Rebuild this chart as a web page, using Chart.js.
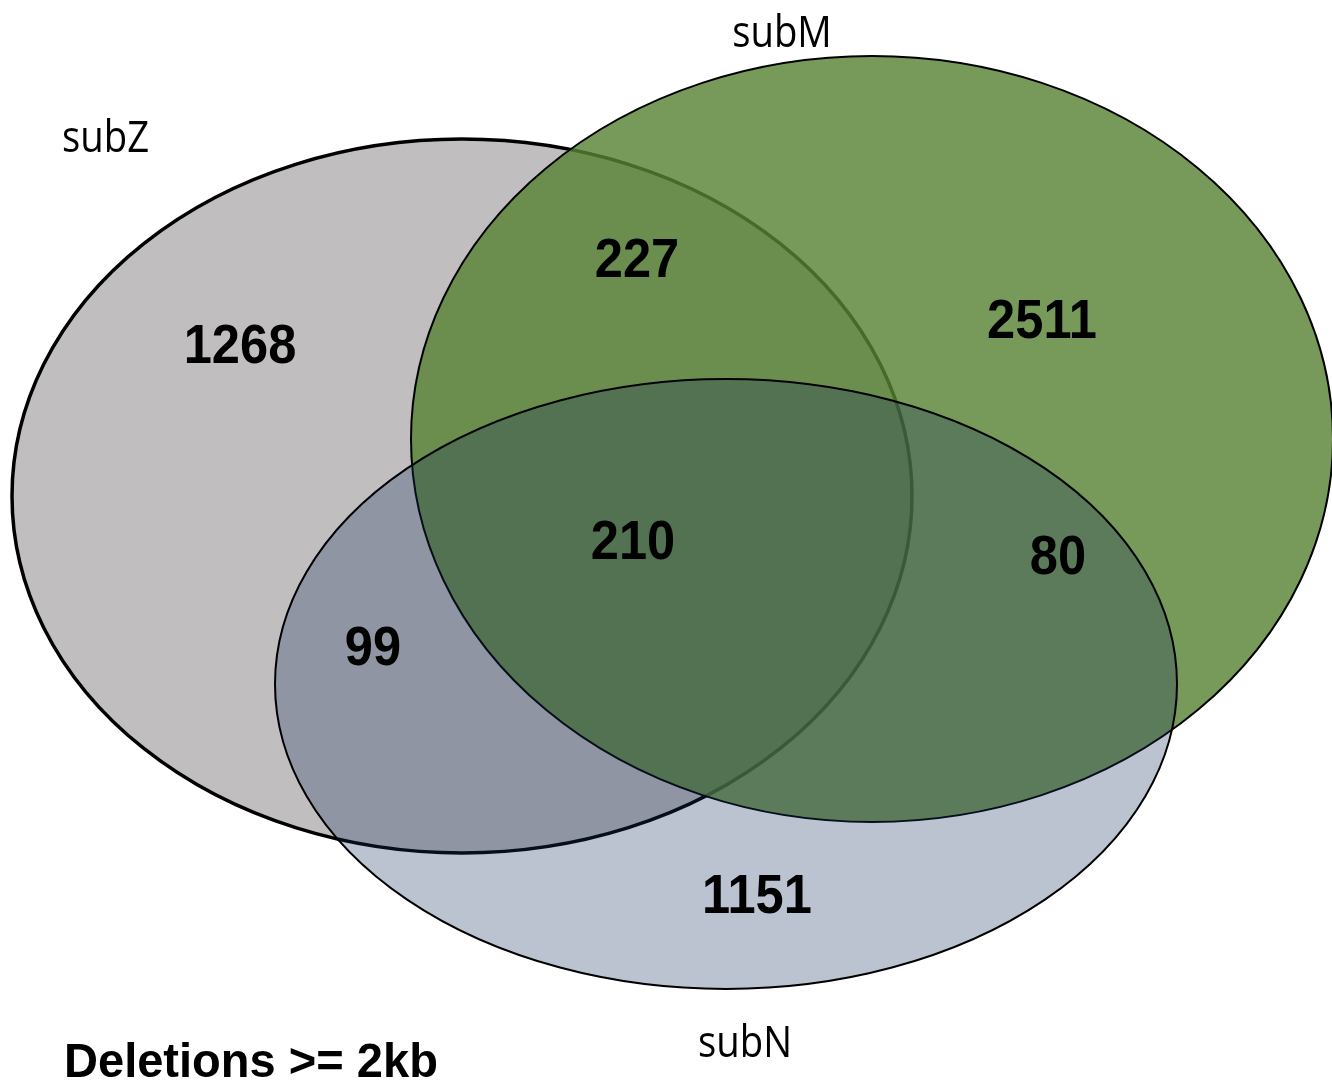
<!DOCTYPE html>
<html lang="en">
<head>
  <meta charset="UTF-8">
  <title>Deletions >= 2kb</title>
  <script src="https://cdn.jsdelivr.net/npm/chart.js"></script>
  <style>
    body { margin: 0; background: #fff; }
    canvas { display: block; }
  </style>
</head>
<body>
  <canvas id="vennChart" width="1332" height="1081"></canvas>
  <script>
    // data
    const setNames = ['subZ', 'subM', 'subN'];
    const regionSets = ['subZ', 'subZ+subM', 'subM', 'subZ+subM+subN', 'subM+subN', 'subZ+subN', 'subN'];
    const regionCounts = [1268, 227, 2511, 210, 80, 99, 1151];
    const chartTitle = 'Deletions >= 2kb';

    // layout, in axis units (x 0..1332, y 0..1081 from top)
    const ellipseCenters = [{x: 462, y: 496}, {x: 872, y: 439}, {x: 726, y: 684}];
    const ellipseRadii = [{rx: 450, ry: 357}, {rx: 461, ry: 383}, {rx: 451, ry: 305}];
    const ellipseFill = ['rgb(192,190,191)', 'rgba(87,130,52,0.81)', 'rgba(24,48,93,0.29)'];
    const ellipseLine = [3.5, 2, 2];
    const setNamePos = [{x: 62, y: 152, align: 'left'}, {x: 782, y: 47, align: 'center'}, {x: 745, y: 1057, align: 'center'}];
    const countPos = [{x: 240, y: 343}, {x: 637, y: 257}, {x: 1042, y: 318}, {x: 633, y: 539},
                      {x: 1058, y: 554}, {x: 373, y: 645}, {x: 757, y: 893}];
    const titlePos = {x: 64, y: 1077};

    function stretchedText(ctx, text, x, y, font, sx, align) {
      ctx.save();
      ctx.font = font;
      ctx.fillStyle = '#000';
      ctx.textAlign = align;
      ctx.textBaseline = 'alphabetic';
      ctx.translate(x, y);
      ctx.scale(sx, 1);
      ctx.fillText(text, 0, 0);
      ctx.restore();
    }

    const vennPlugin = {
      id: 'venn',
      beforeDatasetsDraw(chart) {
        const ctx = chart.ctx;
        const xs = chart.scales.x, ys = chart.scales.y;
        const meta = chart.getDatasetMeta(0);
        meta.data.forEach((pt, i) => {
          const c = ellipseCenters[i], r = ellipseRadii[i];
          const rx = Math.abs(xs.getPixelForValue(c.x + r.rx) - pt.x);
          const ry = Math.abs(ys.getPixelForValue(c.y + r.ry) - pt.y);
          ctx.save();
          ctx.beginPath();
          ctx.ellipse(pt.x, pt.y, rx, ry, 0, 0, Math.PI * 2);
          ctx.fillStyle = ellipseFill[i];
          ctx.fill();
          ctx.lineWidth = ellipseLine[i];
          ctx.strokeStyle = '#000';
          ctx.stroke();
          ctx.restore();
        });
      },
      afterDatasetsDraw(chart) {
        const ctx = chart.ctx;
        const xs = chart.scales.x, ys = chart.scales.y;
        chart.getDatasetMeta(1).data.forEach((pt, i) => {
          stretchedText(ctx, String(regionCounts[i]), pt.x, pt.y + 20,
            'bold 55px "Liberation Sans", Arial, sans-serif', 0.92, 'center');
        });
        setNames.forEach((name, i) => {
          const p = setNamePos[i];
          stretchedText(ctx, name, xs.getPixelForValue(p.x), ys.getPixelForValue(p.y),
            '44px "Open Sans", sans-serif', 0.87, p.align);
        });
        stretchedText(ctx, chartTitle, xs.getPixelForValue(titlePos.x), ys.getPixelForValue(titlePos.y),
          'bold 49px "Liberation Sans", Arial, sans-serif', 0.96, 'left');
      }
    };

    new Chart(document.getElementById('vennChart'), {
      type: 'scatter',
      data: {
        datasets: [{
          label: 'sets',
          data: ellipseCenters,
          pointRadius: 0
        }, {
          label: 'counts',
          data: countPos,
          pointRadius: 0
        }]
      },
      options: {
        responsive: false,
        animation: false,
        events: [],
        layout: { padding: 0 },
        plugins: {
          legend: { display: false },
          tooltip: { enabled: false }
        },
        scales: {
          x: { type: 'linear', min: 0, max: 1332, display: false },
          y: { type: 'linear', min: 0, max: 1081, reverse: true, display: false }
        }
      },
      plugins: [vennPlugin]
    });
  </script>
</body>
</html>
